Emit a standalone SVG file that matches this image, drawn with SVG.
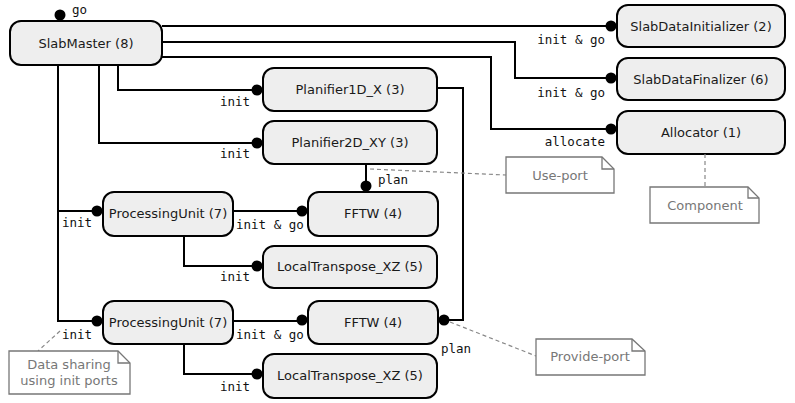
<svg xmlns="http://www.w3.org/2000/svg" width="795" height="403" viewBox="0 0 795 403">
<style>
.node rect{fill:#eeeeee;stroke:#000;stroke-width:2}
.node text{font-family:"DejaVu Sans",sans-serif;font-size:13px;text-anchor:middle;fill:#1a1a1a}
.conn path{fill:none;stroke:#000;stroke-width:2}
.port{fill:#000}
.lbl{font-family:"DejaVu Sans Mono",monospace;font-size:12.5px;fill:#111}
.note polygon{fill:#fff;stroke:#777;stroke-width:1.3}
.note path.fold{fill:none;stroke:#777;stroke-width:1.3}
.note text{font-family:"DejaVu Sans",sans-serif;font-size:13px;text-anchor:middle;fill:#777}
.dash{fill:none;stroke:#888;stroke-width:1.2;stroke-dasharray:4,3}
</style>
<rect width="795" height="403" fill="#fff"/>
<g id="connectors" class="conn">
<path d="M162,26 H611"/>
<path d="M162,42 H515 V78 H611"/>
<path d="M162,57 H491 V129 H611"/>
<path d="M118,65 V90 H257"/>
<path d="M99,65 V143 H257"/>
<path d="M58,65 V321 H97"/>
<path d="M58,211 H97"/>
<path d="M233,211 H302"/>
<path d="M184,236 V266 H257"/>
<path d="M366,164 V186"/>
<path d="M437,88 H463 V320 H444"/>
<path d="M233,321 H302"/>
<path d="M184,344 V374 H257"/>
</g>
<g id="ports">
<circle class="port" cx="60" cy="15" r="5.5"/>
<circle class="port" cx="611" cy="26" r="5.5"/>
<circle class="port" cx="611" cy="78" r="5.5"/>
<circle class="port" cx="611" cy="129" r="5.5"/>
<circle class="port" cx="257" cy="90" r="5.5"/>
<circle class="port" cx="257" cy="143" r="5.5"/>
<circle class="port" cx="97" cy="211" r="5.5"/>
<circle class="port" cx="302" cy="211" r="5.5"/>
<circle class="port" cx="257" cy="266" r="5.5"/>
<circle class="port" cx="366" cy="186" r="5.5"/>
<circle class="port" cx="97" cy="321" r="5.5"/>
<circle class="port" cx="302" cy="320" r="5.5"/>
<circle class="port" cx="444" cy="320" r="5.5"/>
<circle class="port" cx="257" cy="374" r="5.5"/>
</g>
<g id="labels">
<text class="lbl" x="72" y="14">go</text>
<text class="lbl" x="605" y="44" text-anchor="end">init &amp; go</text>
<text class="lbl" x="605" y="97" text-anchor="end">init &amp; go</text>
<text class="lbl" x="605" y="146" text-anchor="end">allocate</text>
<text class="lbl" x="250" y="106" text-anchor="end">init</text>
<text class="lbl" x="250" y="158" text-anchor="end">init</text>
<text class="lbl" x="378" y="184">plan</text>
<text class="lbl" x="62" y="227">init</text>
<text class="lbl" x="236" y="229">init &amp; go</text>
<text class="lbl" x="250" y="281" text-anchor="end">init</text>
<text class="lbl" x="62" y="339">init</text>
<text class="lbl" x="236" y="339">init &amp; go</text>
<text class="lbl" x="441" y="353">plan</text>
<text class="lbl" x="250" y="391" text-anchor="end">init</text>
</g>
<g id="SlabMaster" class="node"><rect x="10" y="21" width="152" height="44" rx="11"/><text x="86" y="48">SlabMaster (8)</text></g>
<g id="SlabDataInitializer" class="node"><rect x="617" y="5" width="168" height="42" rx="11"/><text x="701" y="31">SlabDataInitializer (2)</text></g>
<g id="SlabDataFinalizer" class="node"><rect x="617" y="58" width="168" height="42" rx="11"/><text x="701" y="84">SlabDataFinalizer (6)</text></g>
<g id="Allocator" class="node"><rect x="617" y="111" width="168" height="43" rx="11"/><text x="701" y="137">Allocator (1)</text></g>
<g id="Planifier1D_X" class="node"><rect x="263" y="68" width="174" height="43" rx="11"/><text x="350" y="94">Planifier1D_X (3)</text></g>
<g id="Planifier2D_XY" class="node"><rect x="263" y="121" width="174" height="43" rx="11"/><text x="350" y="147">Planifier2D_XY (3)</text></g>
<g id="ProcessingUnit1" class="node"><rect x="103" y="192" width="130" height="44" rx="11"/><text x="168" y="218">ProcessingUnit (7)</text></g>
<g id="FFTW1" class="node"><rect x="308" y="192" width="130" height="44" rx="11"/><text x="373" y="218">FFTW (4)</text></g>
<g id="LocalTranspose1" class="node"><rect x="263" y="246" width="174" height="42" rx="11"/><text x="350" y="271">LocalTranspose_XZ (5)</text></g>
<g id="ProcessingUnit2" class="node"><rect x="103" y="301" width="130" height="43" rx="11"/><text x="168" y="327">ProcessingUnit (7)</text></g>
<g id="FFTW2" class="node"><rect x="308" y="301" width="130" height="43" rx="11"/><text x="373" y="327">FFTW (4)</text></g>
<g id="LocalTranspose2" class="node"><rect x="263" y="354" width="174" height="44" rx="11"/><text x="350" y="380">LocalTranspose_XZ (5)</text></g>
<g id="notes">
<path class="dash" d="M370,169 L506,175"/>
<path class="dash" d="M705,154 V187"/>
<path class="dash" d="M450,322 L536,356"/>
<path class="dash" d="M60,331 L38,351"/>
<g id="note-useport" class="note"><polygon points="506,157 602,157 614,169 614,193 506,193"/><path class="fold" d="M602,157 V169 H614"/><text x="560" y="180">Use-port</text></g>
<g id="note-component" class="note"><polygon points="650,187 748,187 759,198 759,223 650,223"/><path class="fold" d="M748,187 V198 H759"/><text x="705" y="210">Component</text></g>
<g id="note-provideport" class="note"><polygon points="536,339 632,339 645,351 645,375 536,375"/><path class="fold" d="M632,339 V351 H645"/><text x="590" y="361">Provide-port</text></g>
<g id="note-datasharing" class="note"><polygon points="9,351 118,351 130,363 130,394 9,394"/><path class="fold" d="M118,351 V363 H130"/><text x="69" y="369">Data sharing</text><text x="69" y="385">using init ports</text></g>
</g>
</svg>
